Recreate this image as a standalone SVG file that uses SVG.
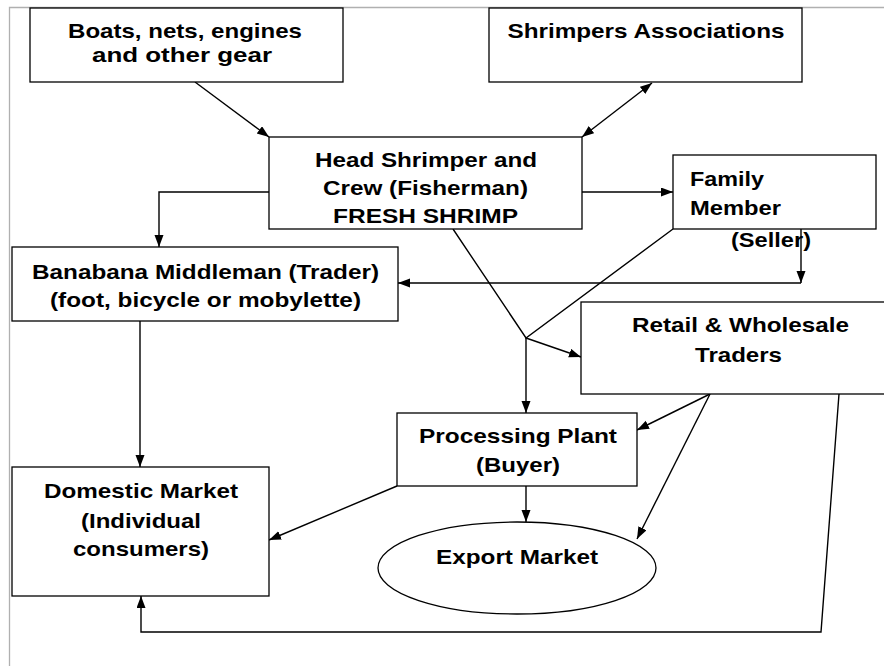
<svg xmlns="http://www.w3.org/2000/svg" width="884" height="666" viewBox="0 0 884 666">
<style>
.box{fill:#fff;stroke:#000;stroke-width:1.3}
.t{font-family:"Liberation Sans",Arial,sans-serif;font-weight:bold;font-size:21px;fill:#000;text-anchor:middle}
.tl{text-anchor:start}
.c{fill:none;stroke:#000;stroke-width:1.4}
.frame{fill:none;stroke:#b0b0b0;stroke-width:1.3}
</style>
<defs>
<marker id="ah" markerUnits="userSpaceOnUse" markerWidth="13" markerHeight="10" refX="12" refY="4.5" orient="auto-start-reverse">
<path d="M0,0 L12,4.5 L0,9 z" fill="#000"/>
</marker>
</defs>
<rect width="884" height="666" fill="#fff"/>
<path class="frame" d="M9.5,666 V7.5 H884"/>

<g id="connectors">
<path class="c" d="M195,82 L269,137" marker-end="url(#ah)"/>
<path class="c" d="M652,83 L582,137" marker-start="url(#ah)" marker-end="url(#ah)"/>
<path class="c" d="M582,192 L673,192" marker-end="url(#ah)"/>
<path class="c" d="M269,192 L159,192 L159,247" marker-end="url(#ah)"/>
<path class="c" d="M801,229 L801,283" marker-end="url(#ah)"/>
<path class="c" d="M801,283 L398,283" marker-end="url(#ah)"/>
<path class="c" d="M453,229 L526,338 L673,229"/>
<path class="c" d="M526,338 L526,413" marker-end="url(#ah)"/>
<path class="c" d="M526,338 L581,357" marker-end="url(#ah)"/>
<path class="c" d="M710,394 L637,430" marker-end="url(#ah)"/>
<path class="c" d="M710,394 L637,539" marker-end="url(#ah)"/>
<path class="c" d="M526,486 L526,522" marker-end="url(#ah)"/>
<path class="c" d="M397,486 L269,540" marker-end="url(#ah)"/>
<path class="c" d="M140,321 L140,467" marker-end="url(#ah)"/>
<path class="c" d="M839,394 L821,632 L141,632 L141,596" marker-end="url(#ah)"/>
</g>

<g id="boats">
<rect class="box" x="30" y="8" width="313" height="74"/>
<text class="t" x="185" y="38" textLength="234" lengthAdjust="spacingAndGlyphs">Boats, nets, engines</text>
<text class="t" x="182" y="62" textLength="180" lengthAdjust="spacingAndGlyphs">and other gear</text>
</g>

<g id="associations">
<rect class="box" x="489" y="8" width="313" height="74"/>
<text class="t" x="646" y="38" textLength="277" lengthAdjust="spacingAndGlyphs">Shrimpers Associations</text>
</g>

<g id="head-shrimper">
<rect class="box" x="269" y="137" width="313" height="92"/>
<text class="t" x="426" y="167" textLength="222" lengthAdjust="spacingAndGlyphs">Head Shrimper and</text>
<text class="t" x="425.5" y="195" textLength="205" lengthAdjust="spacingAndGlyphs">Crew (Fisherman)</text>
<text class="t" x="425.5" y="223" textLength="185" lengthAdjust="spacingAndGlyphs">FRESH SHRIMP</text>
</g>

<g id="family-member">
<rect class="box" x="673" y="155" width="203" height="74"/>
<text class="t tl" x="690" y="186" textLength="74" lengthAdjust="spacingAndGlyphs">Family</text>
<text class="t tl" x="690" y="215" textLength="91" lengthAdjust="spacingAndGlyphs">Member</text>
<text class="t tl" x="731" y="247" textLength="80" lengthAdjust="spacingAndGlyphs">(Seller)</text>
</g>

<g id="banabana">
<rect class="box" x="12" y="247" width="386" height="74"/>
<text class="t" x="205.5" y="279" textLength="347" lengthAdjust="spacingAndGlyphs">Banabana Middleman (Trader)</text>
<text class="t" x="205.5" y="307" textLength="311" lengthAdjust="spacingAndGlyphs">(foot, bicycle or mobylette)</text>
</g>

<g id="retail">
<rect class="box" x="581" y="302" width="310" height="92"/>
<text class="t" x="740.5" y="332" textLength="217" lengthAdjust="spacingAndGlyphs">Retail &amp; Wholesale</text>
<text class="t" x="738.5" y="362" textLength="87" lengthAdjust="spacingAndGlyphs">Traders</text>
</g>

<g id="processing">
<rect class="box" x="397" y="413" width="240" height="73"/>
<text class="t" x="518" y="443" textLength="198" lengthAdjust="spacingAndGlyphs">Processing Plant</text>
<text class="t" x="518" y="472" textLength="84" lengthAdjust="spacingAndGlyphs">(Buyer)</text>
</g>

<g id="domestic">
<rect class="box" x="12" y="467" width="257" height="129"/>
<text class="t" x="141" y="498" textLength="194" lengthAdjust="spacingAndGlyphs">Domestic Market</text>
<text class="t" x="141" y="528" textLength="120" lengthAdjust="spacingAndGlyphs">(Individual</text>
<text class="t" x="141" y="556" textLength="136" lengthAdjust="spacingAndGlyphs">consumers)</text>
</g>

<g id="export">
<ellipse class="box" cx="517" cy="568" rx="139" ry="46"/>
<text class="t" x="517" y="564" textLength="162" lengthAdjust="spacingAndGlyphs">Export Market</text>
</g>
</svg>
